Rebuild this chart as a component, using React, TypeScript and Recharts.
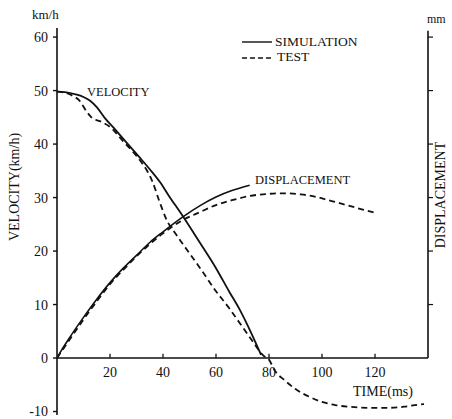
import React from "react";
import {
  LineChart,
  Line,
  XAxis,
  YAxis,
  ReferenceLine,
  ReferenceDot,
} from "recharts";

// velocity, simulation (km/h)
const velSimTime = [0, 3, 7, 10, 12.5, 15, 18, 22, 26, 31, 35, 39, 42, 47.5, 54, 60, 65, 69, 73, 77];
const velSimValue = [49.8, 49.7, 49.3, 48.8, 48.1, 46.9, 44.9, 42.7, 40.4, 37.6, 35.3, 32.8, 30.5, 26.5, 21.5, 16.8, 12.4, 9.0, 5.0, 0.6];

// velocity, test (km/h)
const velTestTime = [0, 3, 6, 8.7, 11, 13, 17, 20, 25, 30, 32, 34, 36, 38.5, 41.4, 44.5, 47.5, 54, 60, 65, 69, 74, 78, 80, 82, 86, 90, 95, 100, 105, 110, 117, 125, 131, 135, 138.5];
const velTestValue = [49.8, 49.6, 49.0, 48.0, 46.2, 45.0, 44.1, 43.2, 40.5, 37.8, 36.5, 35.0, 33.0, 29.5, 25.8, 23.4, 21.3, 16.8, 12.5, 9.3, 6.5, 3.0, 0.4, -0.3, -2.2, -4.2, -5.8, -7.2, -8.2, -8.8, -9.1, -9.3, -9.3, -9.1, -8.8, -8.6];

// displacement, simulation (drawn on the same vertical scale)
const dispSimTime = [0, 2, 5, 10, 15, 20, 25, 30, 35, 40, 47.5, 54, 60, 66, 72.7];
const dispSimValue = [0, 1.7, 4.0, 7.6, 11.0, 14.1, 16.8, 19.2, 21.6, 23.6, 26.4, 28.5, 30.1, 31.3, 32.3];

// displacement, test
const dispTestTime = [0, 5, 10, 15, 20, 25, 30, 35, 40, 47.5, 54, 60, 66, 72.7, 80, 85, 92, 98, 104, 110, 115, 120.5];
const dispTestValue = [0, 3.6, 7.2, 10.6, 13.8, 16.5, 19.0, 21.3, 23.3, 25.8, 27.3, 28.6, 29.5, 30.3, 30.7, 30.8, 30.6, 30.1, 29.3, 28.5, 27.8, 27.1];

const xTicks = [20, 40, 60, 80, 100, 120];
const yTicks = [-10, 0, 10, 20, 30, 40, 50, 60];
const rightTicks = [10, 20, 30, 40, 50, 60];
const X_MAX = 140;
const Y_TOP = 61.7;

const toPoints = (ts: number[], vs: number[]) => ts.map((t, i) => ({ t, v: vs[i] }));

const velSim = toPoints(velSimTime, velSimValue);
const velTest = toPoints(velTestTime, velTestValue);
const dispSim = toPoints(dispSimTime, dispSimValue);
const dispTest = toPoints(dispTestTime, dispTestValue);

const FONT = "'Liberation Serif', 'DejaVu Serif', serif";
const INK = "#111";

const txt = (left: number, cy: number, size: number, s: string, extra: React.CSSProperties = {}) => (
  <div
    style={{
      position: "absolute",
      left,
      top: cy - size / 2,
      fontSize: size,
      lineHeight: 1,
      whiteSpace: "nowrap",
      color: INK,
      ...extra,
    }}
  >
    {s}
  </div>
);

const vtxt = (cx: number, cy: number, size: number, s: string) => (
  <div
    style={{
      position: "absolute",
      left: cx,
      top: cy,
      fontSize: size,
      lineHeight: 1,
      whiteSpace: "nowrap",
      color: INK,
      transform: "translate(-50%, -50%) rotate(-90deg)",
    }}
  >
    {s}
  </div>
);

export default function App() {
  return (
    <div
      style={{
        position: "absolute",
        left: 0,
        top: 0,
        width: 452,
        height: 419,
        background: "#fff",
        fontFamily: FONT,
      }}
    >
      <LineChart
        width={452}
        height={419}
        margin={{ top: 28, right: 0, bottom: 4, left: 0 }}
        style={{ fontFamily: FONT }}
      >
        <XAxis type="number" dataKey="t" domain={[0, X_MAX]} hide allowDataOverflow />
        <YAxis
          type="number"
          width={57}
          domain={[-10.65, Y_TOP]}
          ticks={yTicks}
          interval={0}
          allowDataOverflow
          axisLine={{ stroke: INK, strokeWidth: 1.6 }}
          tickLine={{ stroke: INK, strokeWidth: 1.4 }}
          tickSize={4}
          tickMargin={5}
          tick={{ fontSize: 14, fill: INK, fontFamily: FONT }}
        />
        <YAxis
          yAxisId="right"
          orientation="right"
          type="number"
          width={24}
          domain={[-10.65, Y_TOP]}
          ticks={rightTicks}
          interval={0}
          allowDataOverflow
          axisLine={false}
          tickLine={{ stroke: INK, strokeWidth: 1.2 }}
          tickSize={5}
          tickFormatter={() => ""}
        />

        {/* horizontal axis through zero */}
        <ReferenceLine y={0} stroke={INK} strokeWidth={1.6} />
        {/* right displacement axis */}
        <ReferenceLine
          segment={[
            { x: X_MAX, y: 0 },
            { x: X_MAX, y: Y_TOP - 0.5 },
          ]}
          stroke={INK}
          strokeWidth={1.6}
        />
        {xTicks.map((t) => (
          <ReferenceLine
            key={`xt-${t}`}
            segment={[
              { x: t, y: 0 },
              { x: t, y: 0.8 },
            ]}
            stroke={INK}
            strokeWidth={1.3}
          />
        ))}
        {xTicks.map((t) => (
          <ReferenceDot
            key={`xl-${t}`}
            x={t}
            y={0}
            r={0.01}
            fill="none"
            stroke="none"
            label={{ value: String(t), position: "bottom", offset: 9, fontSize: 14, fill: INK, fontFamily: FONT }}
          />
        ))}

        <Line data={velSim} dataKey="v" type="monotone" dot={false} stroke={INK} strokeWidth={1.8} isAnimationActive={false} />
        <Line data={velTest} dataKey="v" type="monotone" dot={false} stroke={INK} strokeWidth={1.8} strokeDasharray="6 4" isAnimationActive={false} />
        <Line data={dispSim} dataKey="v" type="monotone" dot={false} stroke={INK} strokeWidth={1.6} isAnimationActive={false} />
        <Line data={dispTest} dataKey="v" type="monotone" dot={false} stroke={INK} strokeWidth={1.8} strokeDasharray="6 4" isAnimationActive={false} />
      </LineChart>

      {txt(32, 14, 13, "km/h")}
      {txt(427, 19, 12, "mm")}
      {vtxt(15, 187, 14, "VELOCITY(km/h)")}
      {vtxt(441, 195, 14, "DISPLACEMENT")}
      {txt(353, 392, 14, "TIME(ms)")}
      {txt(87, 92, 12.5, "VELOCITY")}
      {txt(255, 180, 12.5, "DISPLACEMENT")}

      {/* legend */}
      <svg style={{ position: "absolute", left: 0, top: 0 }} width={452} height={80}>
        <line x1={242} y1={42} x2={272} y2={42} stroke={INK} strokeWidth={1.4} />
        <line x1={242} y1={58} x2={272} y2={58} stroke={INK} strokeWidth={1.4} strokeDasharray="5 3" />
      </svg>
      {txt(275, 42, 13.5, "SIMULATION")}
      {txt(277, 57, 13.5, "TEST")}
    </div>
  );
}
